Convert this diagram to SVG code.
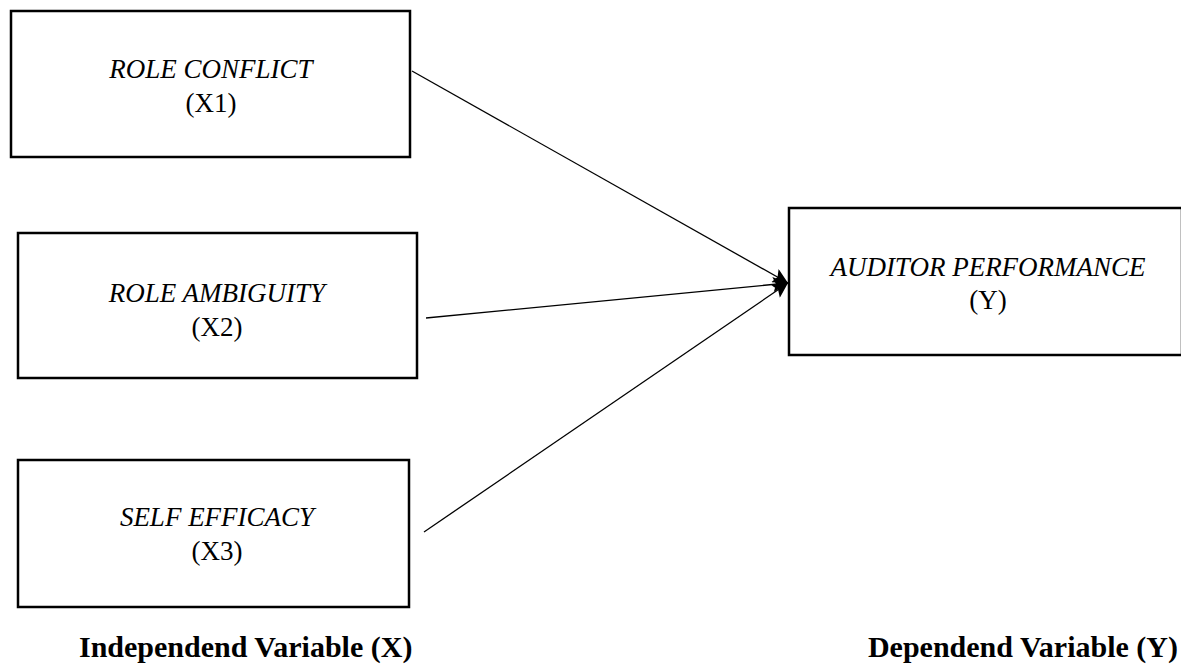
<svg xmlns="http://www.w3.org/2000/svg" width="1181" height="664" viewBox="0 0 1181 664">
  <style>
    .box { fill: #fff; stroke: #000; stroke-width: 2.5; }
    .lbl { font-family: "Liberation Serif", "Times New Roman", serif; font-size: 27px; fill: #000; text-anchor: middle; }
    .it { font-style: italic; }
    .cap { font-family: "Liberation Serif", "Times New Roman", serif; font-size: 30px; font-weight: bold; fill: #000; }
    .conn { stroke: #000; stroke-width: 1.3; fill: none; marker-end: url(#arr); }
  </style>
  <defs>
    <marker id="arr" viewBox="0 0 10 10" refX="10" refY="5" markerWidth="17" markerHeight="15" markerUnits="userSpaceOnUse" orient="auto">
      <path d="M0,0 L10,5 L0,10 L2,5 z" fill="#000"/>
    </marker>
  </defs>
  <rect width="1181" height="664" fill="#fff"/>
  <g id="x1">
    <rect class="box" x="11" y="11" width="399" height="146"/>
    <text class="lbl it" x="211" y="78">ROLE CONFLICT</text>
    <text class="lbl" x="211" y="112">(X1)</text>
  </g>
  <g id="x2">
    <rect class="box" x="18" y="233" width="399" height="145"/>
    <text class="lbl it" x="217" y="302">ROLE AMBIGUITY</text>
    <text class="lbl" x="217" y="336">(X2)</text>
  </g>
  <g id="x3">
    <rect class="box" x="18" y="460" width="391" height="147"/>
    <text class="lbl it" x="217" y="526">SELF EFFICACY</text>
    <text class="lbl" x="217" y="560">(X3)</text>
  </g>
  <g id="y">
    <rect class="box" x="789" y="208" width="393" height="147"/>
    <text class="lbl it" x="988" y="276">AUDITOR PERFORMANCE</text>
    <text class="lbl" x="988" y="309">(Y)</text>
  </g>
  <g id="connectors">
    <line class="conn" x1="412" y1="71" x2="788" y2="283"/>
    <line class="conn" x1="426" y1="318" x2="788" y2="283"/>
    <line class="conn" x1="424" y1="532" x2="788" y2="283"/>
  </g>
  <g id="captions">
    <text class="cap" x="79" y="657">Independend Variable (X)</text>
    <text class="cap" x="1178" y="657" text-anchor="end">Dependend Variable (Y)</text>
  </g>
</svg>
